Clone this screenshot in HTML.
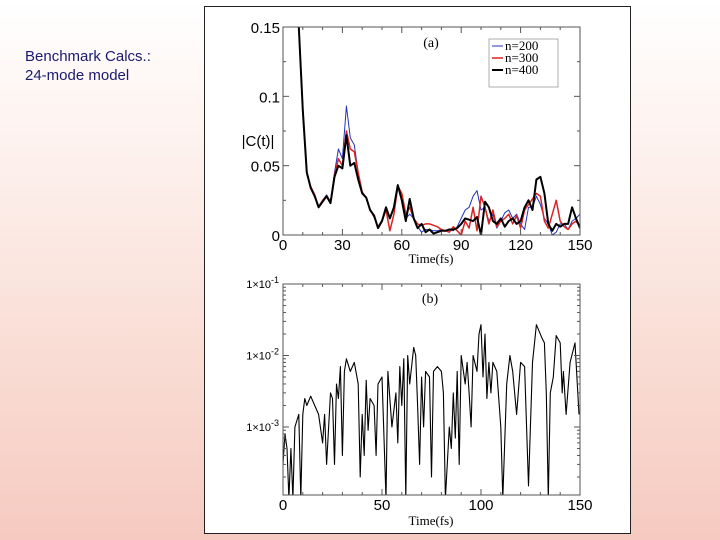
<!DOCTYPE html>
<html><head><meta charset="utf-8"><style>
html,body{margin:0;padding:0}
body{width:720px;height:540px;position:relative;overflow:hidden;background:linear-gradient(to bottom,#ffffff 0%,#fdf0ec 30%,#f9ddd5 65%,#f6cac0 100%);font-family:"Liberation Sans",sans-serif}
#title{position:absolute;left:25px;top:47px;color:#1a1a6e;font-size:15px;line-height:19px}
#fig{position:absolute;left:204px;top:6px;width:425px;height:526px;background:#fff;border:1px solid #222}
svg{position:absolute;left:0;top:0}
</style></head><body>
<div id="title">Benchmark Calcs.:<br>24-mode model</div>
<div id="fig"></div>
<svg id="chart" width="720" height="540"></svg>
<script>
// Panel (a) data
const aTimes = [6,8,10,12,14,16,18,20,22,24,26,28,30,32,34,36,38,40,42,44,46,48,50,52,54,56,58,60,62,64,66,68,70,72,74,76,78,80,82,84,86,88,90,92,94,96,98,100,102,104,106,108,110,112,114,116,118,120,122,124,126,128,130,132,134,136,138,140,142,144,146,148,150];
const n400 = [0.2,0.15,0.09,0.045,0.034,0.028,0.02,0.024,0.028,0.023,0.042,0.05,0.048,0.072,0.05,0.052,0.04,0.03,0.027,0.018,0.014,0.005,0.01,0.02,0.012,0.02,0.036,0.025,0.01,0.026,0.012,0.005,0.008,0.002,0.004,0.001,0.002,0.003,0.003,0.004,0.004,0.005,0.008,0.012,0.011,0.01,0.013,0.0,0.024,0.02,0.01,0.008,0.012,0.006,0.01,0.012,0.008,0.01,0.02,0.025,0.018,0.04,0.042,0.03,0.008,0.003,0.008,0.006,0.008,0.008,0.02,0.012,0.005];
const n300 = [0.2,0.15,0.09,0.045,0.035,0.029,0.02,0.025,0.028,0.024,0.043,0.055,0.05,0.075,0.062,0.06,0.045,0.031,0.027,0.018,0.013,0.006,0.01,0.018,0.003,0.015,0.035,0.03,0.015,0.02,0.012,0.008,0.007,0.008,0.008,0.007,0.006,0.004,0.003,0.002,0.006,0.003,0.0,0.01,0.005,0.02,0.003,0.028,0.02,0.008,0.018,0.006,0.01,0.012,0.015,0.008,0.014,0.005,0.018,0.022,0.026,0.03,0.028,0.01,0.005,0.015,0.025,0.01,0.006,0.004,0.008,0.01,0.006];
const n200 = [0.2,0.15,0.09,0.046,0.035,0.029,0.021,0.025,0.029,0.024,0.045,0.062,0.055,0.093,0.07,0.065,0.045,0.031,0.027,0.018,0.014,0.006,0.011,0.019,0.012,0.02,0.036,0.03,0.012,0.015,0.012,0.006,0.002,0.004,0.004,0.003,0.003,0.004,0.003,0.004,0.003,0.006,0.012,0.018,0.02,0.028,0.032,0.018,0.02,0.01,0.015,0.005,0.01,0.016,0.018,0.012,0.015,0.008,0.004,0.02,0.02,0.028,0.022,0.012,0.008,0.0,0.002,0.008,0.008,0.004,0.01,0.012,0.015];
const aYTicks = [0,0.05,0.1,0.15];
const aYLabels = ["0","0.05","0.1","0.15"];
const aXTicks = [0,30,60,90,120,150];
// Panel (b) data
const bTimes = [0,1,2,3,4,5,6,8,9,10,11,12,14,16,18,20,21,22,24,25,26,27,28,29,30,31,32,34,36,38,39,40,41,42,43,44,46,47,48,50,52,53,55,57,58,59,60,61,62,63,64,66,67,68,69,70,71,72,74,75,76,78,80,81,82,84,85,86,87,88,89,90,92,93,94,95,96,98,99,100,101,102,103,104,105,106,108,110,111,113,114.6,116,118,120,122,124,126,128,130.6,132,133,134,135,136.5,138,140,141,141.6,143,145,147.5,149.5];
const bValues = [3e-4,8e-4,5e-4,1e-4,5e-4,1e-4,1e-3,1.5e-3,1e-4,1.5e-3,2.5e-3,2e-3,2.7e-3,2e-3,1.5e-3,6e-4,1.5e-3,3e-4,3e-3,2.5e-3,3e-4,4e-3,2.5e-3,7e-3,4e-4,6e-3,9e-3,6e-3,8e-3,4e-3,2e-4,1.5e-3,4e-4,4.5e-3,9e-4,2.5e-3,2e-3,4e-4,4e-3,5e-3,1e-4,6e-3,1e-3,3e-3,6e-4,7e-3,2e-3,9e-3,1e-4,1e-2,4e-3,1.3e-2,1e-2,2e-3,3e-4,5e-3,1e-3,6e-3,5e-3,2e-4,6e-3,7e-3,6e-3,3e-3,1e-4,1e-3,5e-4,3e-3,7e-4,6e-3,3e-4,1e-2,4e-3,8e-3,3e-3,1e-3,1e-2,6e-3,2e-2,2.7e-2,5e-3,2e-2,2.5e-3,8e-3,3e-3,8e-3,6e-3,1e-3,1e-4,4e-3,1e-2,6e-3,1.5e-3,8e-3,7e-3,1.5e-4,8e-3,2.7e-2,1.8e-2,1.5e-2,3e-3,1e-4,3e-3,5e-3,1.9e-2,1.5e-2,3e-3,6e-3,1.5e-3,8e-3,1.5e-2,1.5e-3];
const bXTicks = [0,50,100,150];
const bYExp = [-1,-2,-3];

const NS="http://www.w3.org/2000/svg";
const svg=document.getElementById('chart');
function mk(tag,attrs,parent){const e=document.createElementNS(NS,tag);for(const k in attrs)e.setAttribute(k,attrs[k]);(parent||svg).appendChild(e);return e;}

// ----- Panel A
const A={x0:283,x1:580,y0:235,y1:27};
const ax=t=>A.x0+(t/150)*(A.x1-A.x0);
const ay=v=>A.y0-(v/0.15)*(A.y0-A.y1);
const gA=mk('g',{});


mk('defs',{}).innerHTML='<clipPath id="ca"><rect x="283" y="27" width="297" height="208"/></clipPath><clipPath id="cb"><rect x="283" y="284" width="297" height="211"/></clipPath>';
function line(times,vals,color,w,name){
  let d='';times.forEach((t,i)=>{if(i<vals.length)d+=(i?'L':'M')+ax(t).toFixed(1)+','+ay(vals[i]).toFixed(1);});
  const p=mk('path',{d:d,fill:'none',stroke:color,'stroke-width':w,'clip-path':'url(#ca)','stroke-linejoin':'round'},gA);
  
  
}
line(aTimes,n200,'#2233bb',1,'series-n200');
line(aTimes,n300,'#dd2222',1.5,'series-n300');
line(aTimes,n400,'#000',2,'series-n400');
const frA=mk('rect',{x:A.x0,y:A.y1,width:A.x1-A.x0,height:A.y0-A.y1,fill:'none',stroke:'#555','stroke-width':1},gA);


for(let t=0;t<=150;t+=10){const L=(t%30===0)?6:3;const x=ax(t);
  mk('line',{x1:x,x2:x,y1:A.y0,y2:A.y0-L,stroke:'#555'},gA);mk('line',{x1:x,x2:x,y1:A.y1,y2:A.y1+L,stroke:'#555'},gA);}
for(let v=0;v<=0.15001;v+=0.025){const L=(Math.round(v*1000)%50===0)?6:3;const y=ay(v);
  mk('line',{x1:A.x0,x2:A.x0+L,y1:y,y2:y,stroke:'#555'},gA);mk('line',{x1:A.x1,x2:A.x1-L,y1:y,y2:y,stroke:'#555'},gA);}
aYTicks.forEach((v,i)=>{const t=mk('text',{x:A.x0-3,y:ay(v)+6,'text-anchor':'end','font-size':15,fill:'#000'},gA);t.textContent=aYLabels[i];
  
  });
aXTicks.forEach(v=>{const t=mk('text',{x:ax(v),y:A.y0+15,'text-anchor':'middle','font-size':15,fill:'#000'},gA);t.textContent=v;
  
  });
let tx=mk('text',{x:431,y:263,'text-anchor':'middle','font-size':13,'font-family':'Liberation Serif',fill:'#000'},gA);tx.textContent='Time(fs)';


tx=mk('text',{x:258,y:146,'text-anchor':'middle','font-size':15,fill:'#000'},gA);tx.textContent='|C(t)|';


tx=mk('text',{x:431,y:47,'text-anchor':'middle','font-size':14,'font-family':'Liberation Serif',fill:'#000'},gA);tx.textContent='(a)';


const lg=mk('g',{},gA);


mk('rect',{x:489,y:39,width:69,height:48,fill:'#fff',stroke:'#999','stroke-width':0.8},lg);
[['n=200','#2233bb',1],['n=300','#dd2222',1.5],['n=400','#000',2]].forEach((e,i)=>{const y=50+i*12;
  const g=mk('g',{},lg);
  
  
  mk('line',{x1:492,x2:503,y1:y-4,y2:y-4,stroke:e[1],'stroke-width':e[2]},g);
  const t=mk('text',{x:505,y:y,'font-size':13,'font-family':'Liberation Serif',fill:'#000'},g);t.textContent=e[0];});

// ----- Panel B
const B={x0:283,x1:580,y0:495,y1:284};
const bx=t=>B.x0+(t/150)*(B.x1-B.x0);
const dec=(356-284+427-356)/2;
const by=v=>284+(-1-Math.log10(v))*dec;
const gB=mk('g',{});


let d='';bTimes.forEach((t,i)=>{if(i<bValues.length)d+=(i?'L':'M')+bx(t).toFixed(1)+','+by(Math.max(bValues[i],5e-5)).toFixed(1);});
const pb=mk('path',{d:d,fill:'none',stroke:'#000','stroke-width':1.1,'clip-path':'url(#cb)','stroke-linejoin':'round'},gB);


const frB=mk('rect',{x:B.x0,y:B.y1,width:B.x1-B.x0,height:B.y0-B.y1,fill:'none',stroke:'#555','stroke-width':1},gB);


for(let t=0;t<=150;t+=10){const L=(t%50===0)?6:3;const x=bx(t);
  mk('line',{x1:x,x2:x,y1:B.y0,y2:B.y0-L,stroke:'#555'},gB);mk('line',{x1:x,x2:x,y1:B.y1,y2:B.y1+L,stroke:'#555'},gB);}
for(let e=-4;e<=-2;e++){for(let m=1;m<10;m++){const v=m*Math.pow(10,e);const y=by(v);if(y>B.y0||y<B.y1)continue;const L=m===1?6:3;
  mk('line',{x1:B.x0,x2:B.x0+L,y1:y,y2:y,stroke:'#555'},gB);mk('line',{x1:B.x1,x2:B.x1-L,y1:y,y2:y,stroke:'#555'},gB);}}
bYExp.forEach(e=>{const t=mk('text',{x:B.x0-4,y:by(Math.pow(10,e))+4,'text-anchor':'end','font-size':11,fill:'#000'},gB);
  t.innerHTML='1×10<tspan dy="-5" font-size="9">'+e+'</tspan>';
  
  });
bXTicks.forEach(v=>{const t=mk('text',{x:bx(v),y:B.y0+15,'text-anchor':'middle','font-size':15,fill:'#000'},gB);t.textContent=v;
  
  });
tx=mk('text',{x:431,y:525,'text-anchor':'middle','font-size':13,'font-family':'Liberation Serif',fill:'#000'},gB);tx.textContent='Time(fs)';


tx=mk('text',{x:430,y:303,'text-anchor':'middle','font-size':14,'font-family':'Liberation Serif',fill:'#000'},gB);tx.textContent='(b)';


</script>
</body></html>
